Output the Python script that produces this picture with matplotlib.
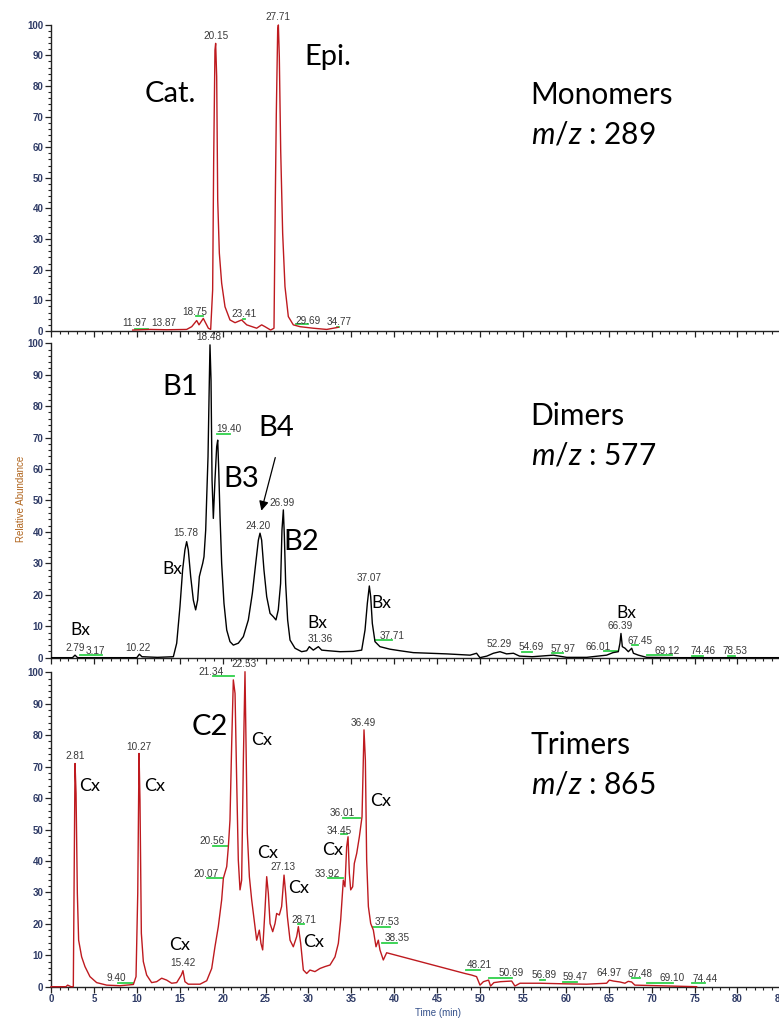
import matplotlib
matplotlib.use("Agg")
import matplotlib.pyplot as plt
from matplotlib.ticker import MultipleLocator

plt.rcParams["mathtext.fontset"] = "custom"
plt.rcParams["mathtext.it"] = "Lato:italic"
plt.rcParams["mathtext.rm"] = "Lato"

# ---- Monomers, m/z 289 (time in min, relative abundance) ----
mono_t = [9.52, 11.54, 13.48, 15.81, 16.40, 16.98, 17.25, 17.75, 18.34, 18.61, 18.84,
          18.96, 19.11, 19.19, 19.31, 19.43, 19.62, 19.89, 20.28, 20.86, 21.45, 22.22,
          22.81, 23.97, 24.55, 24.94, 25.60, 25.99, 26.15, 26.26, 26.42, 26.50, 26.61,
          26.77, 27.00, 27.27, 27.66, 28.24, 29.02, 30.57, 32.13, 33.49]
mono_i = [0.3, 0.5, 0.4, 0.5, 1.4, 3.4, 2.0, 4.1, 0.9, 0.5, 13.4,
          55.8, 91.7, 93.9, 83.0, 42.8, 25.4, 15.6, 7.9, 3.6, 2.7, 3.6,
          2.0, 0.9, 2.0, 1.4, 0.3, 0.9, 44.6, 71.0, 98.3, 99.9, 89.6,
          59.0, 31.9, 14.5, 4.7, 2.0, 1.4, 0.9, 0.5, 1.2]

# ---- Dimers, m/z 577 ----
di_t = [0.08, 2.50, 2.80, 3.10, 10.0, 10.30, 10.60, 12.40, 14.26, 14.65, 15.03, 15.34,
        15.61, 15.81, 16.00, 16.28, 16.59, 16.86, 17.09, 17.29, 17.48, 17.68, 17.83,
        18.03, 18.15, 18.30, 18.42, 18.53, 18.65, 18.77, 18.92, 19.11, 19.31, 19.43,
        19.55, 19.70, 19.89, 20.16, 20.48, 20.86, 21.25, 21.83, 22.42, 23.00, 23.47,
        23.86, 24.17, 24.36, 24.55, 24.82, 25.14, 25.53, 25.92, 26.22, 26.49, 26.76,
        26.92, 27.08, 27.20, 27.35, 27.58, 27.86, 28.44, 29.21, 29.80, 30.11, 30.57,
        31.16, 31.55, 32.33, 33.69, 35.24, 36.21, 36.60, 36.87, 37.10, 37.26, 37.45,
        37.76, 38.34, 39.50, 40.68, 42.23, 46.12, 48.84, 49.60, 49.99, 50.80, 51.56,
        52.33, 53.10, 53.90, 54.60, 56.10, 58.55, 60.10, 62.43, 64.76, 65.50, 66.12,
        66.31, 66.43, 66.59, 66.90, 67.29, 67.68, 67.88, 68.46, 69.42, 73.30, 84.85]
di_i = [0.0, 0.0, 0.8, 0.0, 0.0, 1.1, 0.3, 0.1, 0.3, 4.6, 16.2, 27.9,
        34.3, 36.9, 34.3, 25.8, 18.3, 15.2, 18.3, 25.8, 27.9, 30.0, 32.1,
        40.6, 51.2, 63.9, 83.0, 99.5, 88.3, 56.5, 44.3, 56.5, 67.1, 69.2,
        59.7, 44.9, 30.0, 17.3, 8.8, 5.1, 4.0, 4.6, 6.7, 12.0, 20.5,
        30.0, 37.4, 39.6, 37.4, 27.9, 19.4, 14.1, 13.0, 12.0, 15.2, 23.6,
        40.6, 47.0, 38.5, 23.6, 12.0, 5.6, 3.0, 1.9, 2.2, 3.5, 2.4,
        3.5, 2.4, 2.2, 1.9, 2.0, 2.4, 8.8, 17.3, 22.8, 19.4, 10.9,
        5.1, 3.5, 2.7, 2.2, 1.6, 1.2, 0.8, 1.4, 0.0, 0.5, 1.4,
        1.9, 1.2, 1.4, 0.5, 0.3, 0.8, 0.1, 0.1, 0.8, 1.6, 1.9,
        4.6, 7.7, 3.5, 3.0, 1.9, 3.0, 1.4, 0.8, 0.1, 0.0, 0.0]

# ---- Trimers, m/z 865 ----
tri_t = [0.0, 1.74, 1.94, 2.33, 2.60, 2.68, 2.80, 2.92, 3.07, 3.22, 3.57, 3.96, 4.54,
         5.32, 6.49, 8.04, 9.60, 9.91, 10.11, 10.26, 10.37, 10.53, 10.76, 11.15, 11.73,
         12.32, 12.90, 13.48, 14.06, 14.65, 15.19, 15.38, 15.61, 16.00, 16.59, 17.37,
         18.15, 18.73, 19.11, 19.50, 19.89, 20.09, 20.48, 20.67, 20.86, 21.06, 21.25,
         21.45, 21.64, 21.83, 22.03, 22.22, 22.42, 22.61, 22.73, 22.88, 23.12, 23.39,
         23.78, 23.97, 24.28, 24.47, 24.67, 24.94, 25.14, 25.33, 25.53, 25.84, 26.11,
         26.30, 26.61, 26.88, 27.16, 27.35, 27.55, 27.86, 28.24, 28.63, 28.83, 29.10,
         29.41, 29.80, 30.18, 30.76, 31.35, 31.93, 32.52, 33.10, 33.49, 33.76, 34.07,
         34.26, 34.46, 34.62, 34.77, 34.93, 35.16, 35.35, 35.63, 35.94, 36.25, 36.40,
         36.48, 36.64, 36.79, 36.99, 37.26, 37.57, 37.88, 38.15, 38.34, 38.73, 39.12,
         48.25, 49.02, 49.60, 50.00, 50.40, 51.00, 51.23, 51.62, 52.40, 53.69, 54.07,
         54.66, 56.99, 60.10, 62.43, 64.76, 65.07, 65.54, 66.31, 66.89, 67.28, 67.67,
         68.05, 69.42, 72.53, 75.25]
tri_i = [0.0, 0.0, 0.5, 0.0, 0.0, 29.7, 71.0, 61.5, 29.7, 14.8, 9.5, 6.4, 3.2,
         1.3, 0.5, 0.3, 0.7, 3.2, 29.7, 74.2, 59.4, 17.0, 8.0, 3.7, 1.3,
         1.6, 2.7, 2.1, 1.1, 1.3, 3.7, 5.1, 1.6, 0.8, 0.8, 0.8,
         1.9, 5.8, 12.7, 19.1, 27.6, 34.5, 38.2, 44.5, 53.0, 77.4, 97.6,
         93.3, 65.7, 40.3, 30.8, 33.9, 72.1, 100.2, 77.4, 48.8, 35.0, 27.6,
         19.1, 14.8, 18.0, 13.8, 11.7, 24.4, 35.0, 29.7, 20.1, 17.5, 20.1,
         23.3, 22.8, 25.5, 35.5, 29.7, 22.3, 14.8, 12.7, 15.9, 19.1, 13.8,
         5.3, 4.2, 5.3, 4.8, 5.8, 6.4, 6.9, 9.5, 13.8, 21.2, 33.9,
         31.8, 44.5, 47.7, 36.1, 30.8, 31.8, 39.2, 42.4, 47.7, 54.1, 72.1,
         81.7, 72.1, 40.3, 25.5, 20.1, 18.0, 12.7, 14.8, 11.7, 8.5, 10.8,
         4.2, 3.7, 3.2, 0.5, 1.6, 2.1, 0.2, 1.3, 1.6, 1.8, 0.2,
         1.1, 1.1, 0.9, 0.8, 1.1, 2.1, 1.8, 1.5, 1.1, 1.7, 1.5,
         0.5, 0.4, 0.2, 0.0]

# ---- peak retention-time labels: text, x, y ----
mono_labels = [("20.15", 19.19, 96.3), ("27.71", 26.46, 102.4), ("18.75", 16.78, 6.3),
               ("23.41", 22.53, 5.5), ("11.97", 9.71, 2.5), ("13.87", 13.09, 2.7),
               ("29.69", 29.99, 3.4), ("34.77", 33.57, 3.0)]
di_labels = [("18.48", 18.42, 102.1), ("19.40", 20.78, 72.6), ("15.78", 15.70, 39.6),
             ("24.20", 24.17, 41.9), ("26.99", 26.88, 49.3), ("37.07", 37.10, 25.2),
             ("31.36", 31.35, 5.8), ("2.79", 2.84, 3.0), ("3.17", 5.21, 2.2),
             ("10.22", 10.18, 3.0), ("37.71", 39.78, 6.9), ("52.29", 52.25, 4.2),
             ("54.69", 56.02, 3.5), ("57.97", 59.71, 2.8), ("66.01", 63.79, 3.5),
             ("66.39", 66.32, 10.1), ("67.45", 68.65, 5.4), ("69.12", 71.76, 2.2),
             ("74.46", 75.95, 2.0), ("78.53", 79.72, 2.0)]
tri_labels = [("2.81", 2.80, 73.5), ("10.27", 10.26, 76.4), ("9.40", 7.65, 2.7),
              ("15.42", 15.34, 7.4), ("21.34", 18.65, 100.2), ("22.53", 22.49, 102.7),
              ("20.56", 18.80, 46.3), ("20.07", 18.03, 35.9), ("27.13", 27.08, 38.2),
              ("28.71", 29.49, 21.2), ("33.92", 32.21, 35.9), ("34.45", 33.57, 49.6),
              ("36.01", 33.95, 55.4), ("36.49", 36.40, 84.0), ("37.53", 39.20, 20.7),
              ("38.35", 40.37, 15.6), ("48.21", 49.92, 6.9), ("50.69", 53.61, 4.2),
              ("56.89", 57.46, 3.6), ("59.47", 61.07, 3.0), ("64.97", 65.07, 4.5),
              ("67.48", 68.65, 4.0), ("69.10", 72.34, 2.7), ("74.44", 76.22, 2.3)]

# ---- green peak-boundary markers: x start, x end, y ----
mono_marks = [(9.76, 11.34, 0.65), (16.90, 17.75, 4.9), (22.40, 22.60, 3.9),
              (28.55, 29.99, 2.2), (33.30, 33.57, 1.4)]
di_marks = [(19.38, 20.86, 71.2), (3.42, 5.90, 0.85), (37.76, 39.70, 5.6),
            (54.86, 56.02, 1.9), (58.36, 59.71, 1.6), (64.45, 65.93, 2.2),
            (67.69, 68.45, 4.0), (69.42, 72.34, 0.85), (74.66, 76.01, 0.5),
            (78.87, 79.72, 0.5)]
tri_marks = [(7.85, 9.60, 1.1), (18.84, 21.37, 98.9), (18.92, 20.59, 44.9),
             (18.20, 19.97, 34.5), (28.83, 29.49, 19.8), (32.32, 33.99, 34.5),
             (33.76, 34.46, 48.5), (34.07, 36.02, 53.8), (37.56, 39.50, 19.1),
             (38.54, 40.36, 14.0), (48.36, 50.00, 5.3), (51.00, 53.70, 2.9),
             (56.98, 57.58, 2.1), (59.64, 61.27, 1.5), (67.69, 68.65, 2.7),
             (69.42, 72.53, 1.3), (74.66, 76.22, 1.1)]

# ---- compound annotations: text, x, y, size ----
mono_names = [("Cat.", 13.95, 77.3, 21), ("Epi.", 32.3, 89.6, 21)]
di_names = [("B1", 15.03, 86.2, 21), ("B3", 22.22, 56.8, 21), ("B4", 26.22, 73.2, 21),
            ("B2", 29.21, 36.9, 21), ("Bx", 14.18, 28.2, 12.5), ("Bx", 3.38, 8.8, 12.5),
            ("Bx", 31.04, 10.9, 12.5), ("Bx", 38.54, 17.3, 12.5), ("Bx", 67.09, 14.1, 12.5)]
tri_names = [("C2", 18.53, 82.7, 21), ("Cx", 4.47, 63.9, 13), ("Cx", 12.04, 63.8, 13),
             ("Cx", 15.03, 13.3, 13), ("Cx", 24.55, 78.5, 13), ("Cx", 25.25, 42.6, 13),
             ("Cx", 28.90, 31.3, 13), ("Cx", 30.65, 14.1, 13), ("Cx", 32.79, 43.5, 13),
             ("Cx", 38.46, 59.2, 13)]

panel_titles = ["Monomers", "Dimers", "Trimers"]
panel_mz = ["289", "577", "865"]

RED = "#be1a1f"
GREEN = "#2fd04a"
TICK_COLOR = "#2f3b66"
BIG_FONT = "Lato"
SMALL_FONT = "Liberation Sans"

fig = plt.figure(figsize=(7.79, 10.19), dpi=100)
left, width = 51 / 779, 729.3 / 779
ax_mono = fig.add_axes([left, 0.6752, width, 0.3006])
ax_di = fig.add_axes([left, 0.3546, width, 0.3085])
ax_tri = fig.add_axes([left, 0.0317, width, 0.3085])

panels = [
    (ax_mono, mono_t, mono_i, RED, mono_labels, mono_marks, mono_names),
    (ax_di, di_t, di_i, "black", di_labels, di_marks, di_names),
    (ax_tri, tri_t, tri_i, RED, tri_labels, tri_marks, tri_names),
]

for k, (ax, t, inten, color, labels, marks, names) in enumerate(panels):
    ax.plot(t, inten, color=color, lw=1.0, clip_on=False, zorder=3)
    for x0, x1, y in marks:
        ax.plot([x0, x1], [y, y], color=GREEN, lw=1.3, clip_on=False, zorder=2)
    for txt, x, y in labels:
        ax.text(x, y, txt, ha="center", va="center", fontsize=7.2,
                family=SMALL_FONT, color="#3a3a3a", zorder=4)
    for txt, x, y, size in names:
        ax.text(x, y, txt, ha="center", va="center", fontsize=size,
                family=BIG_FONT, color="black", zorder=5)
    ax.text(55.9, 77.0, panel_titles[k], ha="left", va="center", fontsize=21.5,
            family=BIG_FONT, color="black")
    ax.text(55.9, 64.3, r"$m/z$ : " + panel_mz[k], ha="left", va="center",
            fontsize=21.5, family=BIG_FONT, color="black")

    ax.set_xlim(0, 85)
    ax.set_ylim(0, 100)
    for side in ("top", "right"):
        ax.spines[side].set_visible(False)
    for side in ("left", "bottom"):
        ax.spines[side].set_color("#222222")
        ax.spines[side].set_linewidth(1.0)
    ax.yaxis.set_major_locator(MultipleLocator(10))
    ax.yaxis.set_minor_locator(MultipleLocator(2))
    ax.xaxis.set_major_locator(MultipleLocator(5))
    ax.xaxis.set_minor_locator(MultipleLocator(1))
    ax.tick_params(axis="both", which="major", length=4, width=0.9, color="#222222",
                   labelsize=7, labelcolor=TICK_COLOR, pad=1.5)
    ax.tick_params(axis="both", which="minor", length=2.5, width=0.8, color="#222222")
    for lab in ax.get_yticklabels() + ax.get_xticklabels():
        lab.set_fontfamily(SMALL_FONT)
        lab.set_fontweight("bold")
    if k < 2:
        ax.tick_params(axis="x", which="both", labelbottom=False)

# arrow pointing at B4
ax_di.annotate("", xy=(24.44, 45.9), xytext=(26.22, 64.5),
               arrowprops=dict(arrowstyle="-|>", color="black", lw=0.9,
                               mutation_scale=14))

fig.text(21 / 779, 1 - 499 / 1019, "Relative Abundance", rotation=90, ha="center",
         va="center", fontsize=7, family=SMALL_FONT, color="#b0651e")
fig.text(438 / 779, 1 - 1013 / 1019, "Time (min)", ha="center", va="center",
         fontsize=7, family=SMALL_FONT, color="#34508a")

fig.savefig("out.png", dpi=100)
